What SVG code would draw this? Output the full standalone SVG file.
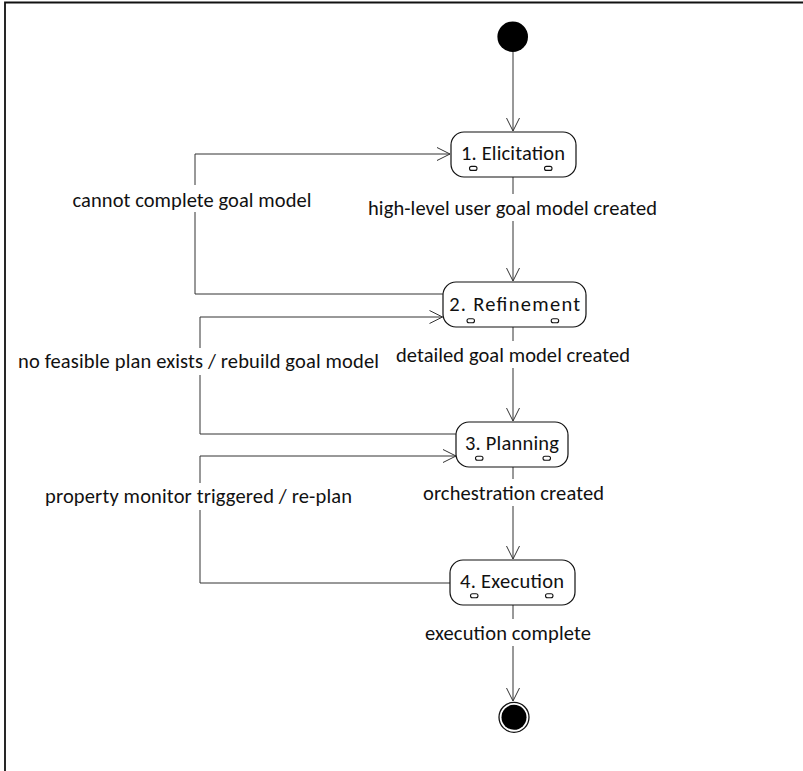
<svg xmlns="http://www.w3.org/2000/svg" width="803" height="771" viewBox="0 0 803 771">
  <style>
    .frame { fill: none; stroke: #111; stroke-width: 1.8; }
    .state { fill: #fff; stroke: #111; stroke-width: 1.2; }
    .tag { fill: #fff; stroke: #111; stroke-width: 1.1; }
    .edge { fill: none; stroke: #333; stroke-width: 1; }
    .lbl-bg { fill: #fff; stroke: none; }
    text { font-family: Carlito, Calibri, Lato, "Open Sans", sans-serif; font-size: 20.5px; fill: #111; }
    .name { text-anchor: middle; }
  </style>
  <defs>
    <marker id="open-arrow" markerUnits="userSpaceOnUse" markerWidth="16" markerHeight="16" viewBox="-14 -8 16 16" refX="0" refY="0" orient="auto">
      <path d="M-13,-6.5 L0,0 L-13,6.5" fill="none" stroke="#333" stroke-width="1"/>
    </marker>
  </defs>

  <!-- page frame: left and top edges -->
  <path class="frame" d="M5,771 V2.5 H803"/>

  <!-- transitions -->
  <g id="connectors">
    <path class="edge" d="M513,52 V131" marker-end="url(#open-arrow)"/>
    <path class="edge" d="M513,177 V281" marker-end="url(#open-arrow)"/>
    <path class="edge" d="M513,327 V421" marker-end="url(#open-arrow)"/>
    <path class="edge" d="M513,467 V559" marker-end="url(#open-arrow)"/>
    <path class="edge" d="M513,605 V701" marker-end="url(#open-arrow)"/>
    <path class="edge" d="M443.5,294 H195 V154 H450" marker-end="url(#open-arrow)"/>
    <path class="edge" d="M456,434 H200 V317 H442.5" marker-end="url(#open-arrow)"/>
    <path class="edge" d="M450,583 H200 V456 H456" marker-end="url(#open-arrow)"/>

    <!-- transition labels, each on a white backing -->
    <rect class="lbl-bg" x="72" y="185" width="241" height="27"/>
    <text x="72.5" y="206.5" textLength="239">cannot complete goal model</text>
    <rect class="lbl-bg" x="367" y="194" width="292" height="27"/>
    <text x="368" y="215" textLength="289">high-level user goal model created</text>
    <rect class="lbl-bg" x="17" y="348" width="363" height="27"/>
    <text x="18" y="368.3" textLength="361">no feasible plan exists / rebuild goal model</text>
    <rect class="lbl-bg" x="395" y="341" width="237" height="27"/>
    <text x="396" y="361.7" textLength="234">detailed goal model created</text>
    <rect class="lbl-bg" x="44" y="483" width="309" height="27"/>
    <text x="45" y="502.7" textLength="307">property monitor triggered / re-plan</text>
    <rect class="lbl-bg" x="422" y="479" width="184" height="27"/>
    <text x="423" y="500" textLength="181">orchestration created</text>
    <rect class="lbl-bg" x="424" y="619" width="168" height="27"/>
    <text x="425" y="640" textLength="166">execution complete</text>
  </g>

  <!-- initial pseudostate -->
  <g id="start">
    <circle cx="512.7" cy="36.7" r="15.3" fill="#000"/>
  </g>

  <g id="elicitation">
    <rect class="state" x="451" y="132" width="125" height="45" rx="13" ry="13"/>
    <text class="name" x="513" y="160" textLength="104">1. Elicitation</text>
    <rect class="tag" x="469.5" y="166.4" width="7.5" height="4" rx="2"/>
    <rect class="tag" x="544.5" y="166.4" width="7.5" height="4" rx="2"/>
  </g>

  <g id="refinement">
    <rect class="state" x="443" y="282" width="143" height="45" rx="13" ry="13"/>
    <text class="name" x="514.7" y="310.7" textLength="131">2. Refinement</text>
    <rect class="tag" x="467" y="318.7" width="7.5" height="4" rx="2"/>
    <rect class="tag" x="551.2" y="318.7" width="7.5" height="4" rx="2"/>
  </g>

  <g id="planning">
    <rect class="state" x="456" y="422" width="112" height="45" rx="13" ry="13"/>
    <text class="name" x="512" y="450" textLength="94">3. Planning</text>
    <rect class="tag" x="475.5" y="456.3" width="7.5" height="4" rx="2"/>
    <rect class="tag" x="543" y="456.3" width="7.5" height="4" rx="2"/>
  </g>

  <g id="execution">
    <rect class="state" x="450" y="560" width="125" height="45" rx="13" ry="13"/>
    <text class="name" x="512" y="588" textLength="104">4. Execution</text>
    <rect class="tag" x="470.5" y="593.7" width="7.5" height="4" rx="2"/>
    <rect class="tag" x="545.5" y="593.7" width="7.5" height="4" rx="2"/>
  </g>

  <!-- final state -->
  <g id="end">
    <circle cx="514" cy="717.3" r="15" fill="#fff" stroke="#111" stroke-width="1.3"/>
    <circle cx="514" cy="717.3" r="12.5" fill="#000"/>
  </g>
</svg>
